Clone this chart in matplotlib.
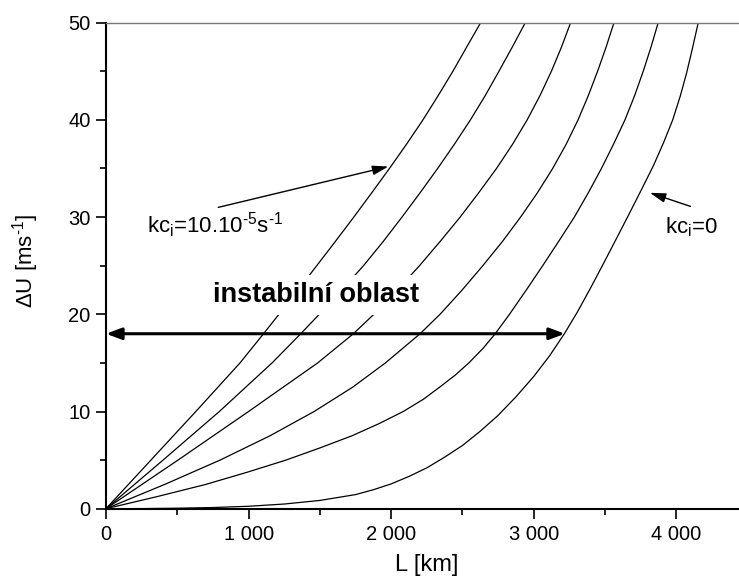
import matplotlib
matplotlib.use('Agg')
import matplotlib.pyplot as plt
from matplotlib.ticker import MultipleLocator, FuncFormatter

plt.rcParams['font.family'] = ['Liberation Sans', 'DejaVu Sans']
plt.rcParams['mathtext.fontset'] = 'custom'
plt.rcParams['mathtext.rm'] = 'Liberation Sans'
plt.rcParams['mathtext.it'] = 'Liberation Sans:italic'
plt.rcParams['mathtext.bf'] = 'Liberation Sans:bold'

# curves, from kc_i = 10.10^-5 s^-1 (left) to kc_i = 0 (right)
L1 = [0, 315, 630, 940, 1105, 1213, 1347, 1478, 1609, 1738, 1864, 1988, 2108, 2223, 2330, 2433, 2530, 2628]
dU1 = [0, 5, 10, 15, 18, 20, 22.5, 25, 27.5, 30, 32.5, 35, 37.5, 40, 42.5, 45, 47.5, 50]

L2 = [0, 400, 795, 1165, 1366, 1496, 1653, 1806, 1945, 2076, 2203, 2326, 2444, 2556, 2660, 2756, 2850, 2941]
dU2 = [0, 5, 10, 15, 18, 20, 22.5, 25, 27.5, 30, 32.5, 35, 37.5, 40, 42.5, 45, 47.5, 50]

L3 = [0, 505, 1000, 1485, 1735, 1879, 2043, 2199, 2344, 2484, 2614, 2739, 2852, 2954, 3044, 3124, 3195, 3259]
dU3 = [0, 5, 10, 15, 18, 20, 22.5, 25, 27.5, 30, 32.5, 35, 37.5, 40, 42.5, 45, 47.5, 50]

L4 = [0, 412, 800, 1150, 1460, 1730, 1960, 2203, 2343, 2498, 2643, 2781, 2908, 3026, 3133,
      3228, 3311, 3383, 3448, 3508, 3563]
dU4 = [0, 2.5, 5, 7.5, 10, 12.5, 15, 18, 20, 22.5, 25, 27.5, 30, 32.5, 35, 37.5, 40, 42.5, 45, 47.5, 50]

L5 = [0, 360, 700, 990, 1262, 1500, 1725, 1915, 2085, 2225, 2340, 2450, 2545, 2645, 2730, 2830,
      2948, 3063, 3175, 3285, 3383, 3475, 3560, 3640, 3708, 3768, 3823, 3873]
dU5 = [0, 1.25, 2.5, 3.75, 5, 6.25, 7.5, 8.75, 10, 11.25, 12.5, 13.75, 15, 16.5, 18, 20, 22.5,
       25, 27.5, 30, 32.5, 35, 37.5, 40, 42.5, 45, 47.5, 50]

L6 = [0, 250, 500, 750, 1000, 1250, 1500, 1750, 1875, 2000, 2125, 2250, 2375, 2500, 2625, 2750,
      2875, 3000, 3110, 3215, 3305, 3395, 3485, 3577, 3665, 3755, 3840, 3912, 3975, 4027, 4072,
      4114, 4154]
dU6 = [0, 0.01, 0.05, 0.12, 0.25, 0.48, 0.85, 1.45, 1.95, 2.55, 3.32, 4.2, 5.3, 6.5, 7.97, 9.6,
       11.5, 13.6, 15.7, 18, 20.2, 22.6, 25.1, 27.7, 30.2, 32.8, 35.3, 37.7, 40, 42.4, 44.8,
       47.4, 50]

curves = [(L1, dU1), (L2, dU2), (L3, dU3), (L4, dU4), (L5, dU5), (L6, dU6)]

fig = plt.figure(figsize=(7.39, 5.80), dpi=100)
ax = fig.add_axes([106/739, 1 - 508.7/580, 633/739, 486/580])

for L, dU in curves:
    ax.plot(L, dU, color='black', lw=0.9)

ax.set_xlim(0, 4440)
ax.set_ylim(0, 50)

ax.xaxis.set_major_locator(MultipleLocator(1000))
ax.xaxis.set_minor_locator(MultipleLocator(500))
ax.yaxis.set_major_locator(MultipleLocator(10))
ax.yaxis.set_minor_locator(MultipleLocator(5))
ax.xaxis.set_major_formatter(FuncFormatter(lambda v, p: '{:,.0f}'.format(v).replace(',', ' ')))

ax.tick_params(which='major', direction='out', length=7, width=1.2, labelsize=14.5, color='black')
ax.tick_params(which='minor', direction='out', length=4, width=1.2, color='black')
ax.tick_params(axis='x', pad=5)
ax.tick_params(axis='y', pad=4)

ax.spines['right'].set_visible(False)
ax.spines['top'].set_color('#777777')
ax.spines['top'].set_linewidth(1.0)
ax.spines['left'].set_linewidth(1.5)
ax.spines['bottom'].set_linewidth(1.5)

ax.set_xlabel('L [km]', fontsize=17)
ax.set_ylabel(r'$\Delta$U [ms$^{\text{-1}}$]', fontsize=16)
ax.xaxis.set_label_coords(0.507, -0.094)
ax.yaxis.set_label_coords(-0.102, 0.51)

# unstable region
ax.text(752, 22.0, 'instabilní oblast', fontsize=19.5, fontweight='bold', ha='left', va='center',
        bbox=dict(facecolor='white', edgecolor='none', pad=5))
ax.annotate('', xy=(0, 18), xytext=(3219, 18),
            arrowprops=dict(arrowstyle='<|-|>,head_length=0.4,head_width=0.15', color='black',
                            lw=2.2, mutation_scale=23, shrinkA=0, shrinkB=0))

# labels of the outer curves
ax.text(285, 28.4, r'kc$_\mathrm{i}$=10.10$^{\text{-5}}$s$^{\text{-1}}$', fontsize=16,
        ha='left', va='baseline')
ax.annotate('', xy=(1980, 35.2), xytext=(787, 31.0),
            arrowprops=dict(arrowstyle='-|>,head_length=0.6,head_width=0.18', color='black',
                            lw=1.0, mutation_scale=16, shrinkA=0, shrinkB=0))
ax.text(3920, 28.3, r'kc$_\mathrm{i}$=0', fontsize=16, ha='left', va='baseline')
ax.annotate('', xy=(3815, 32.5), xytext=(4100, 31.1),
            arrowprops=dict(arrowstyle='-|>,head_length=0.6,head_width=0.18', color='black',
                            lw=1.0, mutation_scale=16, shrinkA=0, shrinkB=0))

fig.savefig('out.png', dpi=100)
